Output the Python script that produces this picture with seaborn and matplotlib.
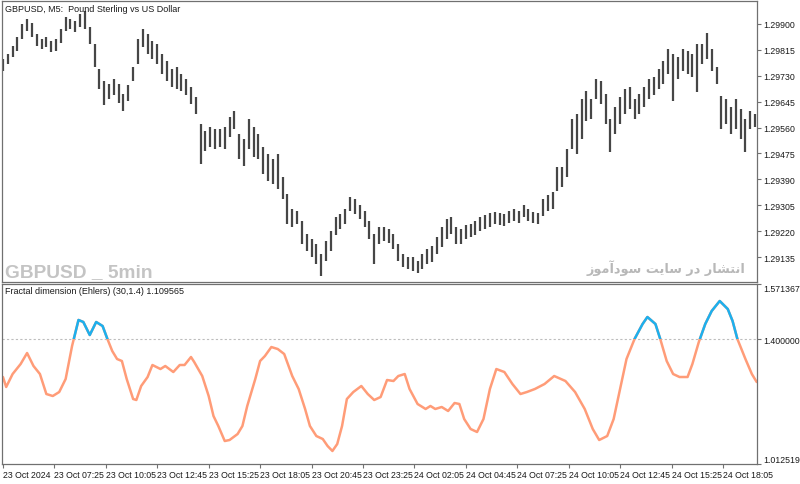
import matplotlib
matplotlib.use("Agg")
import matplotlib.pyplot as plt
import seaborn as sns
import pandas as pd
from matplotlib.patches import Rectangle

# ---------------- data ----------------
symbol_title = "GBPUSD, M5:  Pound Sterling vs US Dollar"
indicator_title = "Fractal dimension (Ehlers) (30,1.4) 1.109565"

# price bars (every 3rd M5 bar, index in M5 bars from 23 Oct 04:45)
bar_step = 3
price_high = [
    1.29785, 1.29801, 1.29828, 1.29857, 1.29900, 1.29916, 1.29903, 1.29867, 1.29851, 1.29857,
    1.29844, 1.29851, 1.29884, 1.29923, 1.29916, 1.29910, 1.29933, 1.29943, 1.29890, 1.29834,
    1.29752, 1.29713, 1.29703, 1.29719, 1.29703, 1.29670, 1.29700, 1.29759, 1.29851, 1.29884,
    1.29867, 1.29844, 1.29834, 1.29801, 1.29779, 1.29752, 1.29759, 1.29736, 1.29719, 1.29693,
    1.29660, 1.29572, 1.29549, 1.29562, 1.29555, 1.29555, 1.29562, 1.29595, 1.29614, 1.29539,
    1.29522, 1.29588, 1.29562, 1.29539, 1.29496, 1.29473, 1.29457, 1.29473, 1.29398, 1.29342,
    1.29293, 1.29286, 1.29253, 1.29211, 1.29194, 1.29178, 1.29145, 1.29188, 1.29220, 1.29266,
    1.29276, 1.29293, 1.29332, 1.29325, 1.29306, 1.29286, 1.29253, 1.29211, 1.29234, 1.29234,
    1.29227, 1.29211, 1.29178, 1.29145, 1.29135, 1.29135, 1.29122, 1.29145, 1.29161, 1.29171,
    1.29201, 1.29234, 1.29260, 1.29266, 1.29234, 1.29227, 1.29240, 1.29243, 1.29253, 1.29266,
    1.29273, 1.29279, 1.29283, 1.29279, 1.29276, 1.29286, 1.29293, 1.29286, 1.29306, 1.29293,
    1.29283, 1.29279, 1.29325, 1.29339, 1.29348, 1.29431, 1.29431, 1.29490, 1.29588, 1.29605,
    1.29654, 1.29680, 1.29654, 1.29719, 1.29713, 1.29670, 1.29588, 1.29627, 1.29660, 1.29687,
    1.29693, 1.29654, 1.29670, 1.29693, 1.29719, 1.29726, 1.29752, 1.29779, 1.29818, 1.29801,
    1.29792, 1.29818, 1.29811, 1.29801, 1.29834, 1.29834, 1.29870, 1.29818, 1.29759, 1.29664,
    1.29654, 1.29627, 1.29654, 1.29621, 1.29588, 1.29614, 1.29605,
]
price_low = [
    1.29746, 1.29769, 1.29792, 1.29811, 1.29851, 1.29877, 1.29857, 1.29828, 1.29818, 1.29824,
    1.29808, 1.29811, 1.29838, 1.29877, 1.29884, 1.29874, 1.29890, 1.29884, 1.29834, 1.29759,
    1.29687, 1.29634, 1.29654, 1.29667, 1.29641, 1.29614, 1.29647, 1.29713, 1.29769, 1.29824,
    1.29801, 1.29785, 1.29769, 1.29736, 1.29713, 1.29693, 1.29687, 1.29680, 1.29667, 1.29637,
    1.29605, 1.29440, 1.29483, 1.29496, 1.29490, 1.29496, 1.29490, 1.29529, 1.29555, 1.29457,
    1.29434, 1.29490, 1.29463, 1.29457, 1.29408, 1.29385, 1.29375, 1.29358, 1.29325, 1.29243,
    1.29234, 1.29243, 1.29178, 1.29155, 1.29135, 1.29112, 1.29073, 1.29122, 1.29155, 1.29207,
    1.29227, 1.29243, 1.29286, 1.29276, 1.29260, 1.29234, 1.29194, 1.29112, 1.29178, 1.29188,
    1.29181, 1.29161, 1.29122, 1.29102, 1.29096, 1.29089, 1.29083, 1.29096, 1.29112, 1.29119,
    1.29145, 1.29168, 1.29194, 1.29211, 1.29178, 1.29178, 1.29194, 1.29201, 1.29207, 1.29220,
    1.29227, 1.29234, 1.29243, 1.29240, 1.29237, 1.29247, 1.29253, 1.29247, 1.29266, 1.29253,
    1.29247, 1.29243, 1.29270, 1.29286, 1.29293, 1.29352, 1.29365, 1.29398, 1.29490, 1.29473,
    1.29522, 1.29582, 1.29588, 1.29654, 1.29637, 1.29572, 1.29480, 1.29539, 1.29572, 1.29605,
    1.29621, 1.29588, 1.29605, 1.29627, 1.29654, 1.29667, 1.29687, 1.29703, 1.29736, 1.29647,
    1.29719, 1.29746, 1.29736, 1.29726, 1.29677, 1.29769, 1.29785, 1.29746, 1.29703, 1.29555,
    1.29572, 1.29539, 1.29555, 1.29522, 1.29480, 1.29555, 1.29562,
]
price_bar = list(range(0, len(price_high) * bar_step, bar_step))

# Fractal dimension indicator
fd_bar = [0, 2, 6, 11, 15, 19, 23, 27, 31, 35, 39, 43, 47, 50, 54, 58, 62, 65, 68, 71,
          74, 77, 81, 83, 86, 90, 93, 98, 101, 106, 110, 113, 117, 119, 124, 128, 131, 134, 138, 141,
          146, 149, 152, 157, 160, 163, 167, 171, 175, 180, 184, 188, 191, 195, 199, 202, 205, 208, 211, 214,
          218, 223, 227, 231, 235, 239, 243, 246, 250, 253, 258, 263, 266, 269, 273, 277, 281, 284, 287, 291,
          295, 299, 303, 307, 312, 317, 322, 326, 331, 337, 343, 350, 356, 362, 367, 371, 376, 380, 384, 388,
          393, 398, 401, 406, 409, 413, 417, 421, 426, 429, 433, 437, 441, 446, 451, 454, 457, 462, 466, 469]
fd_value = [1.2826, 1.2516, 1.2919, 1.3230, 1.3571, 1.3168, 1.2919, 1.2298, 1.2236, 1.2360,
            1.2764, 1.3789, 1.4596, 1.4534, 1.4130, 1.4534, 1.4409, 1.4006, 1.3633, 1.3385,
            1.3323, 1.2764, 1.2143, 1.2112, 1.2547, 1.2826, 1.3199, 1.3074, 1.3168, 1.2981,
            1.3199, 1.3199, 1.3447, 1.3292, 1.2857, 1.2236, 1.1615, 1.1305, 1.0839, 1.0870,
            1.1056, 1.1305, 1.1926, 1.2764, 1.3323, 1.3478, 1.3757, 1.3695, 1.3540, 1.2857,
            1.2454, 1.1833, 1.1305, 1.0994, 1.0901, 1.0684, 1.0529, 1.0746, 1.1305, 1.2143,
            1.2360, 1.2547, 1.2298, 1.2112, 1.2205, 1.2733, 1.2702, 1.2857, 1.2919, 1.2454,
            1.1988, 1.1833, 1.1926, 1.1833, 1.1895, 1.1771, 1.2019, 1.1988, 1.1522, 1.1212,
            1.1119, 1.1522, 1.2454, 1.3074, 1.2981, 1.2609, 1.2298, 1.2360, 1.2454, 1.2609,
            1.2857, 1.2702, 1.2360, 1.1833, 1.1212, 1.0870, 1.0994, 1.1522, 1.2454, 1.3385,
            1.4006, 1.4472, 1.4689, 1.4472, 1.4006, 1.3323, 1.2919, 1.2826, 1.2826, 1.3230,
            1.3913, 1.4472, 1.4875, 1.5186, 1.4937, 1.4565, 1.4006, 1.3385, 1.2919, 1.2671]
fd_level = 1.4

price_ticks = [1.29900, 1.29815, 1.29730, 1.29645, 1.29560, 1.29475, 1.29390, 1.29305, 1.29220, 1.29135]
fd_ticks = [1.571367, 1.400000, 1.012519]
time_tick_bar = [0, 32, 64, 96, 128, 160, 192, 224, 256, 288, 320, 352, 384, 416, 448]
time_tick_labels = ["23 Oct 2024", "23 Oct 07:25", "23 Oct 10:05", "23 Oct 12:45", "23 Oct 15:25",
                    "23 Oct 18:05", "23 Oct 20:45", "23 Oct 23:25", "24 Oct 02:05", "24 Oct 04:45",
                    "24 Oct 07:25", "24 Oct 10:05", "24 Oct 12:45", "24 Oct 15:25", "24 Oct 18:05"]

watermark_en = "GBPUSD _ 5min"
# "انتشار در سایت سودآموز" in Arabic presentation forms, visual order
watermark_fa = ("\uFEAF\uFEEE\uFEE3\uFE81\uFEA9\uFEEE\uFEB3 "
                "\uFE96\uFBFE\uFE8E\uFEB3 "
                "\uFEAD\uFEA9 "
                "\uFEAD\uFE8E\uFEB8\uFE98\uFEE7\uFE8D")

# ---------------- style ----------------
sns.set_theme(style="white")
plt.rcParams["font.family"] = ["Liberation Sans", "DejaVu Sans"]
plt.rcParams["axes.linewidth"] = 0.9

W, H = 800, 485
fig = plt.figure(figsize=(W / 100, H / 100), dpi=100)
fig.patch.set_facecolor("white")

def fx(px):
    return px / W

def fy(py):
    return 1 - py / H

ax1 = fig.add_axes([fx(2), fy(283), fx(757) - fx(2), fy(2) - fy(283)])
ax2 = fig.add_axes([fx(2), fy(465), fx(757) - fx(2), fy(285) - fy(465)])

xmin, xmax = -0.6, 469.2
spine_col = "#707070"
text_col = "#1a1a1a"

# ---------- price panel ----------
ax1.vlines(price_bar, price_low, price_high, color="#464646", linewidth=1.6)
ax1.set_xlim(xmin, xmax)
ax1.set_ylim(1.290530, 1.299755)
ax1.set_xticks([])
ax1.yaxis.tick_right()
ax1.set_yticks(price_ticks)
ax1.set_yticklabels([f"{v:.5f}" for v in price_ticks])
ax1.tick_params(axis="y", which="both", right=True, left=False, direction="out",
                length=3, width=0.8, pad=1.5, labelsize=6.3, colors=spine_col, labelcolor=text_col)
for s in ax1.spines.values():
    s.set_color(spine_col)
ax1.text(0.004, 0.975, symbol_title, transform=ax1.transAxes, fontsize=6.5,
         color=text_col, ha="left", va="center")
ax1.text(0.004, 0.021, watermark_en, transform=ax1.transAxes, fontsize=13.8,
         fontweight="bold", color="#c4c4c4", ha="left", va="baseline",
         family=["Liberation Sans", "DejaVu Sans"])
ax1.text((745 - 2) / 755, 0.035, watermark_fa, transform=ax1.transAxes, fontsize=9.3,
         fontweight="bold", color="#b8b8b8", ha="right", va="baseline",
         family=["DejaVu Sans"])

# ---------- indicator panel ----------
df = pd.DataFrame({"bar": fd_bar, "fd": fd_value})
ax2.axhline(fd_level, color="#bdbdbd", linewidth=0.8, linestyle=(0, (2, 2)))
sns.lineplot(data=df, x="bar", y="fd", ax=ax2, color="#ff9c78", linewidth=1.8, sort=False)
sns.lineplot(data=df, x="bar", y="fd", ax=ax2, color="#1cb0ee", linewidth=1.8, sort=False)
blue_line = ax2.lines[-1]
clip = Rectangle((xmin, fd_level), xmax - xmin, 1.0, transform=ax2.transData)
blue_line.set_clip_path(clip)

ax2.set_xlim(xmin, xmax)
ax2.set_ylim(1.012519, 1.571367)
ax2.set_xlabel("")
ax2.set_ylabel("")
ax2.yaxis.tick_right()
ax2.set_yticks(fd_ticks)
ax2.set_yticklabels([f"{v:.6f}" for v in fd_ticks])
ax2.tick_params(axis="y", which="both", right=True, left=False, direction="out",
                length=3, width=0.8, pad=1.5, labelsize=6.3, colors=spine_col, labelcolor=text_col)
ylabels = ax2.get_yticklabels()
ylabels[0].set_va("top")
ylabels[-1].set_va("bottom")

ax2.set_xticks(time_tick_bar)
ax2.set_xticklabels(time_tick_labels, ha="left")
ax2.tick_params(axis="x", which="both", bottom=True, direction="out", length=3, width=0.8,
                pad=1, labelsize=6.3, colors=spine_col, labelcolor=text_col)
for s in ax2.spines.values():
    s.set_color(spine_col)
ax2.text(0.004, 0.962, indicator_title, transform=ax2.transAxes, fontsize=6.5,
         color=text_col, ha="left", va="center")

fig.savefig("out.png", dpi=100, facecolor="white")
